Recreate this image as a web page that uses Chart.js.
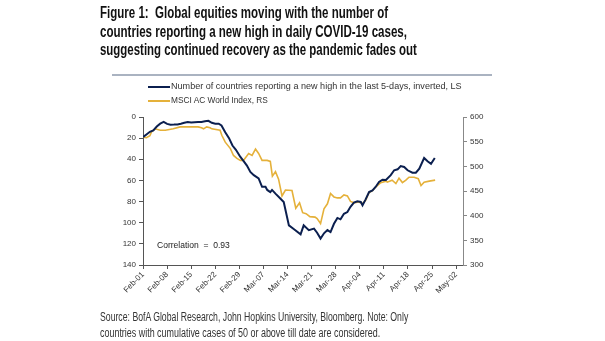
<!DOCTYPE html>
<html>
<head>
<meta charset="utf-8">
<script src="https://cdn.jsdelivr.net/npm/chart.js@4.4.1/dist/chart.umd.min.js"></script>
<style>
  body { margin: 0; background: #fff; }
  #wrap { position: relative; width: 605px; height: 341px; overflow: hidden; font-family: "Liberation Sans", Arial, sans-serif; }
  #wrap canvas { position: absolute; left: 0; top: 0; }
  .fit { position: absolute; white-space: nowrap; transform-origin: 0 0; }
  .title { left: 100px; font-weight: bold; font-size: 16px; line-height: 18px; color: #111; }
  .src { left: 100px; font-size: 12px; line-height: 14px; color: #333; }
  .leg { left: 171px; font-size: 9px; line-height: 11px; color: #333; }
  .swatch { position: absolute; left: 148px; width: 22px; height: 2px; }
  #rule { position: absolute; left: 112px; top: 74px; width: 380px; height: 2px; background: #aab3c1; }
  #corr { left: 157px; top: 240px; font-size: 9px; line-height: 11px; color: #222; }
</style>
</head>
<body>
<div id="wrap">
  <canvas id="chart" width="605" height="341"></canvas>
  <div class="fit title" style="top:4px" data-w="288">Figure 1:&nbsp; Global equities moving with the number of</div>
  <div class="fit title" style="top:23px" data-w="307">countries reporting a new high in daily COVID-19 cases,</div>
  <div class="fit title" style="top:41px" data-w="317">suggesting continued recovery as the pandemic fades out</div>
  <div id="rule"></div>
  <div class="swatch" style="top:86px;background:#0b1f4f"></div>
  <div class="fit leg" style="top:81px" data-w="291">Number of countries reporting a new high in the last 5-days, inverted, LS</div>
  <div class="swatch" style="top:100px;background:#e5b13a"></div>
  <div class="fit leg" style="top:95px" data-w="97">MSCI AC World Index, RS</div>
  <div class="fit" id="corr" data-w="73">Correlation&nbsp; =&nbsp; 0.93</div>
  <div class="fit src" style="top:310px" data-w="308">Source: BofA Global Research, John Hopkins University, Bloomberg. Note: Only</div>
  <div class="fit src" style="top:326px" data-w="280">countries with cumulative cases of 50 or above till date are considered.</div>
</div>
<script>
// x values are days since Feb-01 (2020)
const tickDays = [0, 7, 14, 21, 28, 35, 42, 49, 56, 63, 70, 77, 84, 91];
const tickLabels = ['Feb-01', 'Feb-08', 'Feb-15', 'Feb-22', 'Feb-29', 'Mar-07', 'Mar-14',
                    'Mar-21', 'Mar-28', 'Apr-04', 'Apr-11', 'Apr-18', 'Apr-25', 'May-02'];

// Number of countries reporting a new high in the last 5 days (inverted, left axis)
const countDays = [0, 1, 2, 3, 4, 5, 6, 7, 8, 9, 10, 11, 12, 13, 14, 15, 16, 17, 18, 19, 20, 21, 22,
  22.8, 23.9, 25, 26, 27, 28.3, 29.3, 30.2, 31.2, 32.2, 33.6, 34.6, 35.6, 36.1, 37, 37.5, 38.5,
  40.4, 40.9, 42.4, 43.8, 45.8, 46.7, 48.2, 49.7, 50.6, 51.6, 52.6, 53.6, 54.5, 55.5, 56.5, 57.4,
  58.4, 59.4, 60.3, 61.3, 62.3, 63.3, 63.8, 64.7, 65.7, 66.7, 67.6, 68.6, 69.6, 70.6, 72, 73, 74,
  74.9, 75.9, 76.9, 78.3, 79.3, 80.3, 81.7, 82.7, 83.7, 84.8];
const countVals = [19, 16.5, 14, 12.6, 9, 6.3, 4.7, 6.5, 7.3, 7.2, 7, 6.3, 5.5, 4.7, 5.2, 4.9, 4.8, 4.7, 4, 3.6, 5.5, 6.3, 6.3,
  8, 14.5, 20, 27, 31, 37.8, 42, 46, 52, 55, 58, 66, 66, 69, 71, 69, 72.5,
  78.8, 80.4, 102.5, 106, 111, 102.5, 107, 105.6, 109.5, 115, 110, 107, 108.8, 101, 95.5, 96.8,
  91.5, 89.9, 85, 81, 79.8, 80.4, 83.5, 77.9, 71, 69.4, 66.2, 61.5, 59.3, 59.5, 55, 50.4, 49.5,
  46.4, 47.3, 50.4, 52.7, 52.7, 48.9, 38.8, 41.9, 44.2, 38.8];

// MSCI AC World Index (right axis)
const msciDays = [0, 1, 2, 2.5, 3.5, 5, 6.5, 8.8, 10.8, 13, 15, 16, 17, 17.6, 18.5, 19.5, 20, 22.4,
  22.9, 23.9, 25.4, 26.3, 27.3, 28.3, 29.2, 30.7, 31.7, 32.7, 33.6, 34.6, 36.1, 37, 37.6, 38.5,
  39.4, 40.4, 41.4, 43.3, 44.4, 45.5, 46.4, 47.4, 48.5, 50, 50.6, 51.6, 52.6, 53.6, 54.5, 55.5,
  56.5, 57.4, 58.4, 59.4, 60.3, 61.3, 62.6, 63.8, 64.7, 65.7, 66.7, 67.6, 69.1, 70.6, 71, 72.4,
  73.5, 74.4, 75.4, 76.4, 77.3, 78.8, 80, 80.8, 81.7, 83.2, 84.9];
const msciVals = [559, 558, 562, 570, 576, 573, 573, 576, 580, 580, 580, 580, 578, 576, 580, 578, 576, 573,
  563, 549, 536, 522, 516, 512, 512, 526, 522, 535, 526, 512, 512, 510, 480, 489,
  474, 440, 452, 451, 415, 426, 406, 404, 398, 397, 394, 384, 414, 424, 445, 438,
  436, 436, 442, 440, 429, 426, 428, 424, 431, 447, 451, 458, 467, 470, 468, 472,
  465, 476, 467, 472, 478, 478, 475, 461, 468, 470, 472];

const NAVY = '#0b1f4f';
const GOLD = '#e5b13a';
const FONT = 'Liberation Sans';

function points(xs, ys) {
  return xs.map((x, i) => ({ x, y: ys[i] }));
}

// squeeze overlay text to the widths in the original
document.querySelectorAll('.fit').forEach(el => {
  const w = parseFloat(el.dataset.w);
  el.style.transform = `scaleX(${w / el.offsetWidth})`;
});

const axisGrid = { drawOnChartArea: false, drawTicks: true, tickLength: 4, color: '#555' };

new Chart(document.getElementById('chart'), {
  type: 'line',
  data: {
    datasets: [{
      label: 'Number of countries reporting a new high in the last 5-days, inverted, LS',
      data: points(countDays, countVals),
      borderColor: NAVY,
      borderWidth: 2,
      pointRadius: 0,
      tension: 0,
      yAxisID: 'yL'
    }, {
      label: 'MSCI AC World Index, RS',
      data: points(msciDays, msciVals),
      borderColor: GOLD,
      borderWidth: 1.6,
      pointRadius: 0,
      tension: 0,
      yAxisID: 'yR'
    }]
  },
  options: {
    responsive: false,
    animation: false,
    layout: { padding: { top: 117, left: 0, right: 0, bottom: 0 } },
    plugins: { legend: { display: false }, tooltip: { enabled: false } },
    scales: {
      x: {
        type: 'linear',
        min: 0,
        max: 93,
        afterBuildTicks: s => { s.ticks = tickDays.map(v => ({ value: v })); },
        afterFit: s => { s.height = 76; },
        grid: axisGrid,
        border: { color: '#555', width: 1 },
        ticks: {
          autoSkip: false,
          minRotation: 45,
          maxRotation: 45,
          padding: 1,
          color: '#333',
          font: { family: FONT, size: 8 },
          callback: v => tickLabels[tickDays.indexOf(v)]
        }
      },
      yL: {
        position: 'left',
        reverse: true,
        min: 0,
        max: 140,
        afterFit: s => { s.width = 143; },
        grid: axisGrid,
        border: { color: '#555', width: 1 },
        ticks: { stepSize: 20, padding: 3, color: '#333', font: { family: FONT, size: 8 } }
      },
      yR: {
        position: 'right',
        min: 300,
        max: 600,
        afterFit: s => { s.width = 142; },
        grid: { drawOnChartArea: false, drawTicks: true, tickLength: 4, color: '#888' },
        border: { color: '#888', width: 1 },
        ticks: { stepSize: 50, padding: 3, color: '#333', font: { family: FONT, size: 8 } }
      }
    }
  }
});
</script>
</body>
</html>
